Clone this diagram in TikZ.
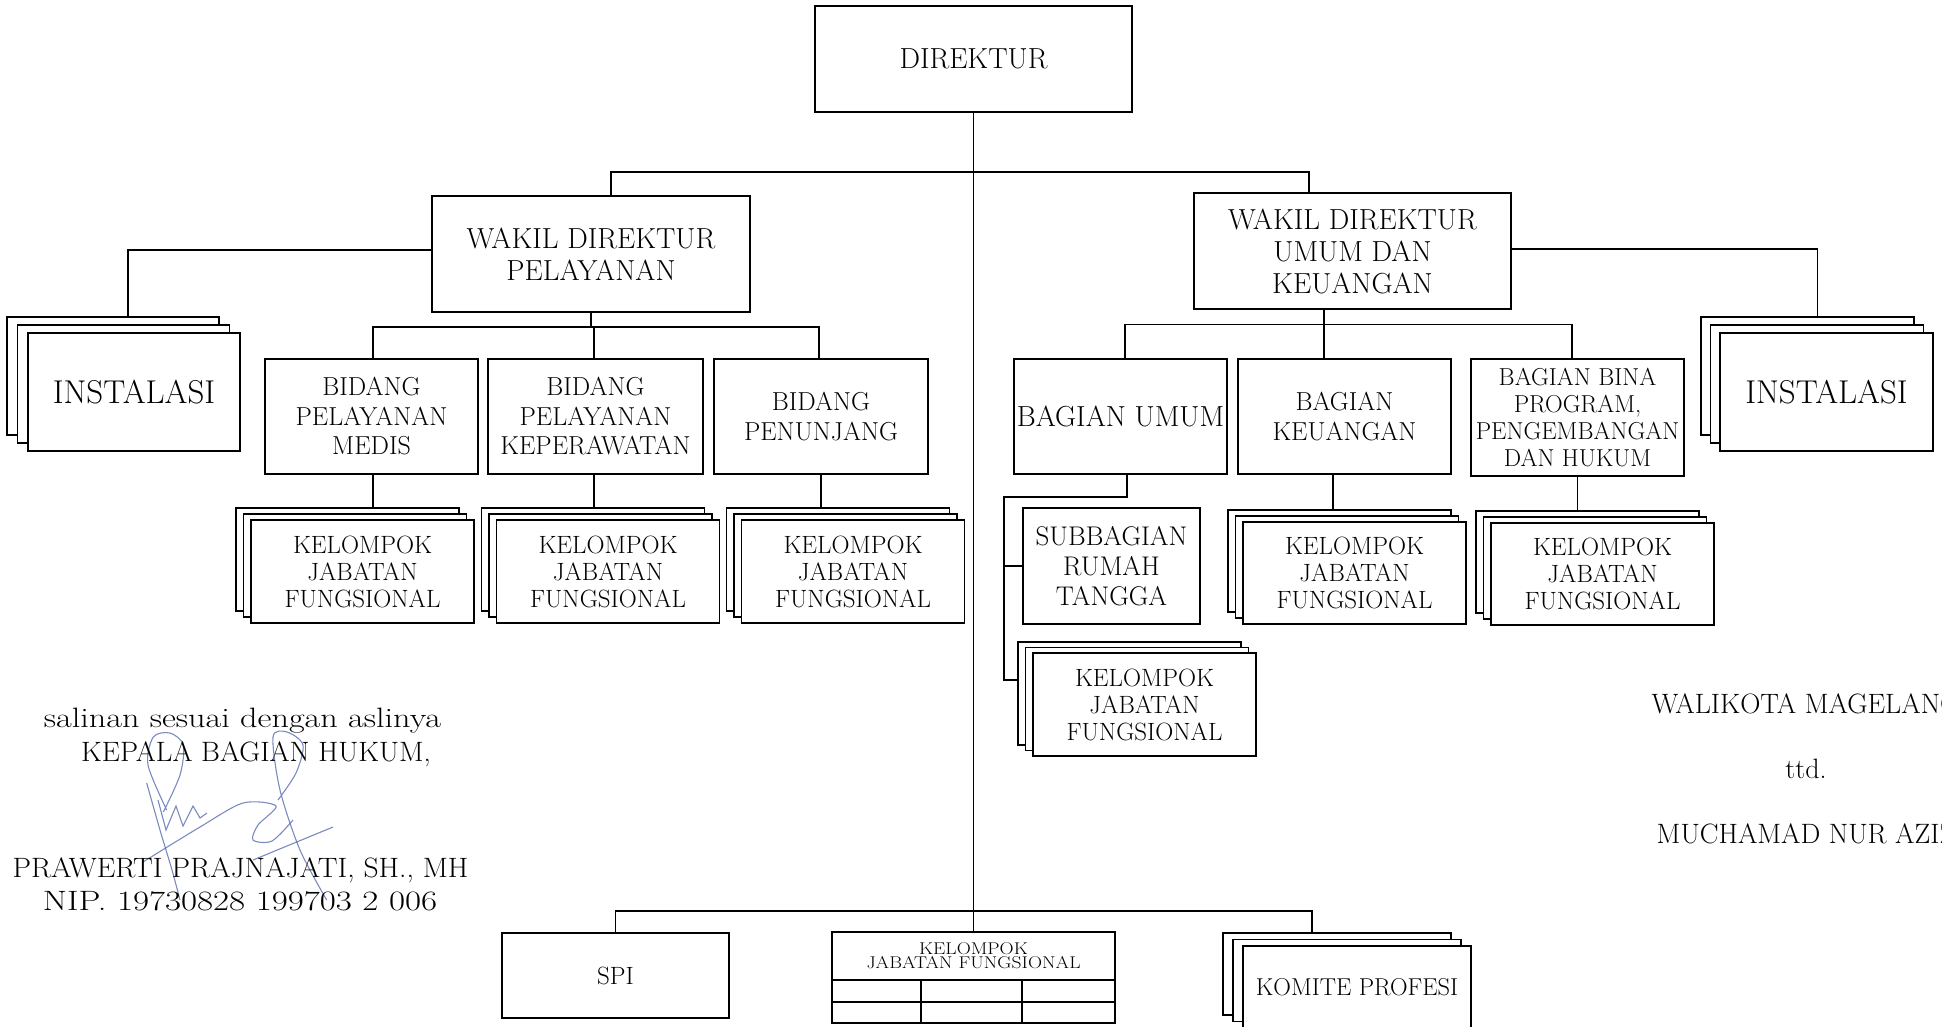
\documentclass[tikz,border=0pt]{standalone}
\usetikzlibrary{calc}
\definecolor{sigc}{RGB}{80,100,170}
\tikzset{
  bx/.style={draw, line width=1.9pt, fill=white, align=center, inner sep=0pt, outer sep=0pt},
  cn/.style={line width=1.6pt},
  tb/.style={line width=1.4pt},
  sg/.style={draw=sigc, line width=1.1pt, opacity=0.75},
  fbig/.style={font=\fontsize{29}{32}\selectfont},
  fins/.style={font=\fontsize{33}{36}\selectfont},
  fbid/.style={font=\fontsize{26}{29.5}\selectfont},
  fkjf/.style={font=\fontsize{25}{27}\selectfont},
  fbu/.style={font=\fontsize{29}{30}\selectfont},
  fkeu/.style={font=\fontsize{26}{30}\selectfont},
  fbina/.style={font=\fontsize{24.5}{27}\selectfont},
  fsub/.style={font=\fontsize{27}{30}\selectfont},
  fspi/.style={font=\fontsize{25}{28}\selectfont},
  fkom/.style={font=\fontsize{24.4}{28}\selectfont},
  fhead/.style={font=\fontsize{17}{14}\selectfont},
  fsig/.style={font=\fontsize{28}{32}\selectfont},
}
% stacked box: name, cx, cy, w, h, dx, dy, style, text
\newcommand\stk[9]{%
  \node[bx, minimum width=#4pt, minimum height=#5pt] (#1b) at ({#2-2*#6},{#3-2*#7}) {};
  \node[bx, minimum width=#4pt, minimum height=#5pt] (#1m) at ({#2-#6},{#3-#7}) {};
  \node[bx, minimum width=#4pt, minimum height=#5pt, #8] (#1) at (#2,#3) {#9};}
\begin{document}
\begin{tikzpicture}[x=1pt,y=-1pt]
\useasboundingbox (0,0) rectangle (1942,1026);
\fill[white] (0,0) rectangle (1942,1026);
\clip (0,0) rectangle (1942,1026);

% ---- signature scribble ----
\draw[sg] plot[smooth] coordinates {(166.7,810) (148,765) (153.3,737) (170,733) (183.3,745) (180,775) (163.3,812)};
\draw[sg] plot[smooth] coordinates {(146.7,783) (160,830) (172,870) (180,900)};
\draw[sg] (158,800) -- (166,830) -- (176,806) -- (183,826) -- (193,806) -- (200,818) -- (207,813);
\draw[sg] plot[smooth] coordinates {(143,862) (200,827) (243,803) (276,806) (258,825) (253,840) (272,841) (293,820)};
\draw[sg] plot[smooth] coordinates {(278,800) (296,773) (303,745) (287,732) (273,737) (280,790) (300,850) (326.7,900)};
\draw[sg] (253,860) -- (333,827);

% ---- main boxes ----
\node[bx, fbig, minimum width=317pt, minimum height=106pt] (dir) at (973.5,59) {DIREKTUR};
\node[bx, fbig, minimum width=318pt, minimum height=116pt] (wp) at (591,254) {WAKIL DIREKTUR\\PELAYANAN};
\node[bx, fbig, minimum width=317pt, minimum height=116pt] (wu) at (1352.5,251) {WAKIL DIREKTUR\\UMUM DAN\\KEUANGAN};

\stk{il}{134}{392}{212}{118}{10.5}{8}{fins}{INSTALASI}
\stk{ir}{1826.5}{392}{213}{118}{9.5}{8}{fins}{INSTALASI}

\node[bx, fbid, minimum width=213pt, minimum height=115pt] (bm) at (371.5,416.5) {BIDANG\\PELAYANAN\\MEDIS};
\node[bx, fbid, minimum width=215pt, minimum height=115pt] (bk) at (595.5,416.5) {BIDANG\\PELAYANAN\\KEPERAWATAN};
\node[bx, fbid, minimum width=214pt, minimum height=115pt] (bp) at (821,416.5) {BIDANG\\PENUNJANG};

\node[bx, fbu, minimum width=213pt, minimum height=115pt] (bu) at (1120.5,416.5) {BAGIAN UMUM};
\node[bx, fkeu, minimum width=213pt, minimum height=115pt] (bku) at (1344.5,416.5) {BAGIAN\\KEUANGAN};
\node[bx, fbina, minimum width=213pt, minimum height=117pt] (bb) at (1577.5,417.5) {BAGIAN BINA\\PROGRAM,\\PENGEMBANGAN\\DAN HUKUM};

\stk{ka}{362.5}{571.5}{223}{103}{7.5}{6}{fkjf}{KELOMPOK\\JABATAN\\FUNGSIONAL}
\stk{kc}{608}{571.5}{223}{103}{7.5}{6}{fkjf}{KELOMPOK\\JABATAN\\FUNGSIONAL}
\stk{kd}{853}{571.5}{223}{103}{7.5}{6}{fkjf}{KELOMPOK\\JABATAN\\FUNGSIONAL}
\node[bx, fsub, minimum width=177pt, minimum height=116pt] (sub) at (1111.5,566) {SUBBAGIAN\\RUMAH\\TANGGA};
\stk{ke}{1144.5}{704.5}{223}{103}{7.5}{5.5}{fkjf}{KELOMPOK\\JABATAN\\FUNGSIONAL}
\stk{kf}{1354.5}{573}{223}{102}{7.5}{6}{fkjf}{KELOMPOK\\JABATAN\\FUNGSIONAL}
\stk{kg}{1602.5}{574}{223}{102}{7.5}{6}{fkjf}{KELOMPOK\\JABATAN\\FUNGSIONAL}

\node[bx, fspi, minimum width=227pt, minimum height=85pt] (spi) at (615.5,975.5) {SPI};
\node[bx, minimum width=283pt, minimum height=91pt] (kjft) at (973.5,977.5) {};
\node[fhead, align=center, inner sep=0pt] (kjth) at ($(kjft.north)+(0,24)$) {\scalebox{1.15}[1]{KELOMPOK}\\\scalebox{1.15}[1]{JABATAN FUNGSIONAL}};
\stk{kom}{1357}{987}{228}{82}{10}{6.5}{fkom}{KOMITE PROFESI}

% ---- table lines ----
\draw[tb] ($(kjft.north west)+(0,48)$) -- ($(kjft.north east)+(0,48)$);
\draw[tb] ($(kjft.north west)+(0,70)$) -- ($(kjft.north east)+(0,70)$);
\draw[tb] ($(kjft.north west)+(89,48)$) -- ($(kjft.south west)+(89,0)$);
\draw[tb] ($(kjft.north west)+(190,48)$) -- ($(kjft.south west)+(190,0)$);

% ---- connectors ----
\coordinate (jb) at (973.5,911);
\draw[cn] (dir.south) -- (kjft.north);
\draw[cn] ([xshift=20pt]wp.north) -- ++(0,-24) -| ([xshift=-43.5pt]wu.north);
\draw[cn] ([yshift=4pt]wp.west) -| ([xshift=15pt]ilb.north);
\draw[cn] ([yshift=2pt]wu.east) -| ([xshift=10pt]irb.north);

\coordinate (jw) at (591,327);
\draw[cn] (wp.south) -- (jw);
\draw[cn] ([xshift=1.5pt]bm.north) |- (jw) -| ([xshift=-2pt]bp.north);
\draw[cn] ([xshift=-1.5pt]bk.north) -- ([xshift=-1.5pt]bk.north |- jw);
\draw[cn] ([xshift=1.5pt]bm.south) -- ([xshift=1.5pt]bm.south |- kab.north);
\draw[cn] ([xshift=-1.5pt]bk.south) -- ([xshift=-1.5pt]bk.south |- kcb.north);
\draw[cn] (bp.south) -- (bp.south |- kdb.north);

\coordinate (ju) at (1324,324.5);
\draw[cn] ([xshift=-28.5pt]wu.south) -- ([xshift=-28.5pt]wu.south |- bku.north);
\draw[cn] ([xshift=4.5pt]bu.north) |- (ju) -| ([xshift=-5.5pt]bb.north);
\coordinate (ub) at (1004,497);
\draw[cn] ([xshift=6.5pt]bu.south) |- (ub) |- ([yshift=13.5pt]keb.west);
\draw[cn] (ub |- sub.west) -- (sub.west);
\draw[cn] ([xshift=-11.5pt]bku.south) -- ([xshift=-11.5pt]bku.south |- kfb.north);
\draw[cn] (bb.south) -- (bb.south |- kgb.north);

\draw[cn] (spi.north) |- (jb) -| ([xshift=-25pt]komb.north);

% ---- signature texts ----
\node[fsig, anchor=base] (s1) at (242.5,727) {\scalebox{1.22}[1]{salinan sesuai dengan aslinya}};
\node[fsig, anchor=base] (s2) at (256,761) {\scalebox{1.03}[1]{KEPALA BAGIAN HUKUM,}};
\node[fsig, anchor=base] (s3) at (240.5,877) {\scalebox{1.056}[1]{PRAWERTI PRAJNAJATI, SH., MH}};
\node[fsig, anchor=base] (s4) at (240,910) {\scalebox{1.247}[1]{NIP. 19730828 199703 2 006}};
\node[fsig, anchor=base] (w1) at (1806,713) {WALIKOTA MAGELANG};
\node[fsig, anchor=base] (w2) at (1806,778) {ttd.};
\node[fsig, anchor=base] (w3) at (1806,843) {MUCHAMAD NUR AZIZ};
\end{tikzpicture}
\end{document}
